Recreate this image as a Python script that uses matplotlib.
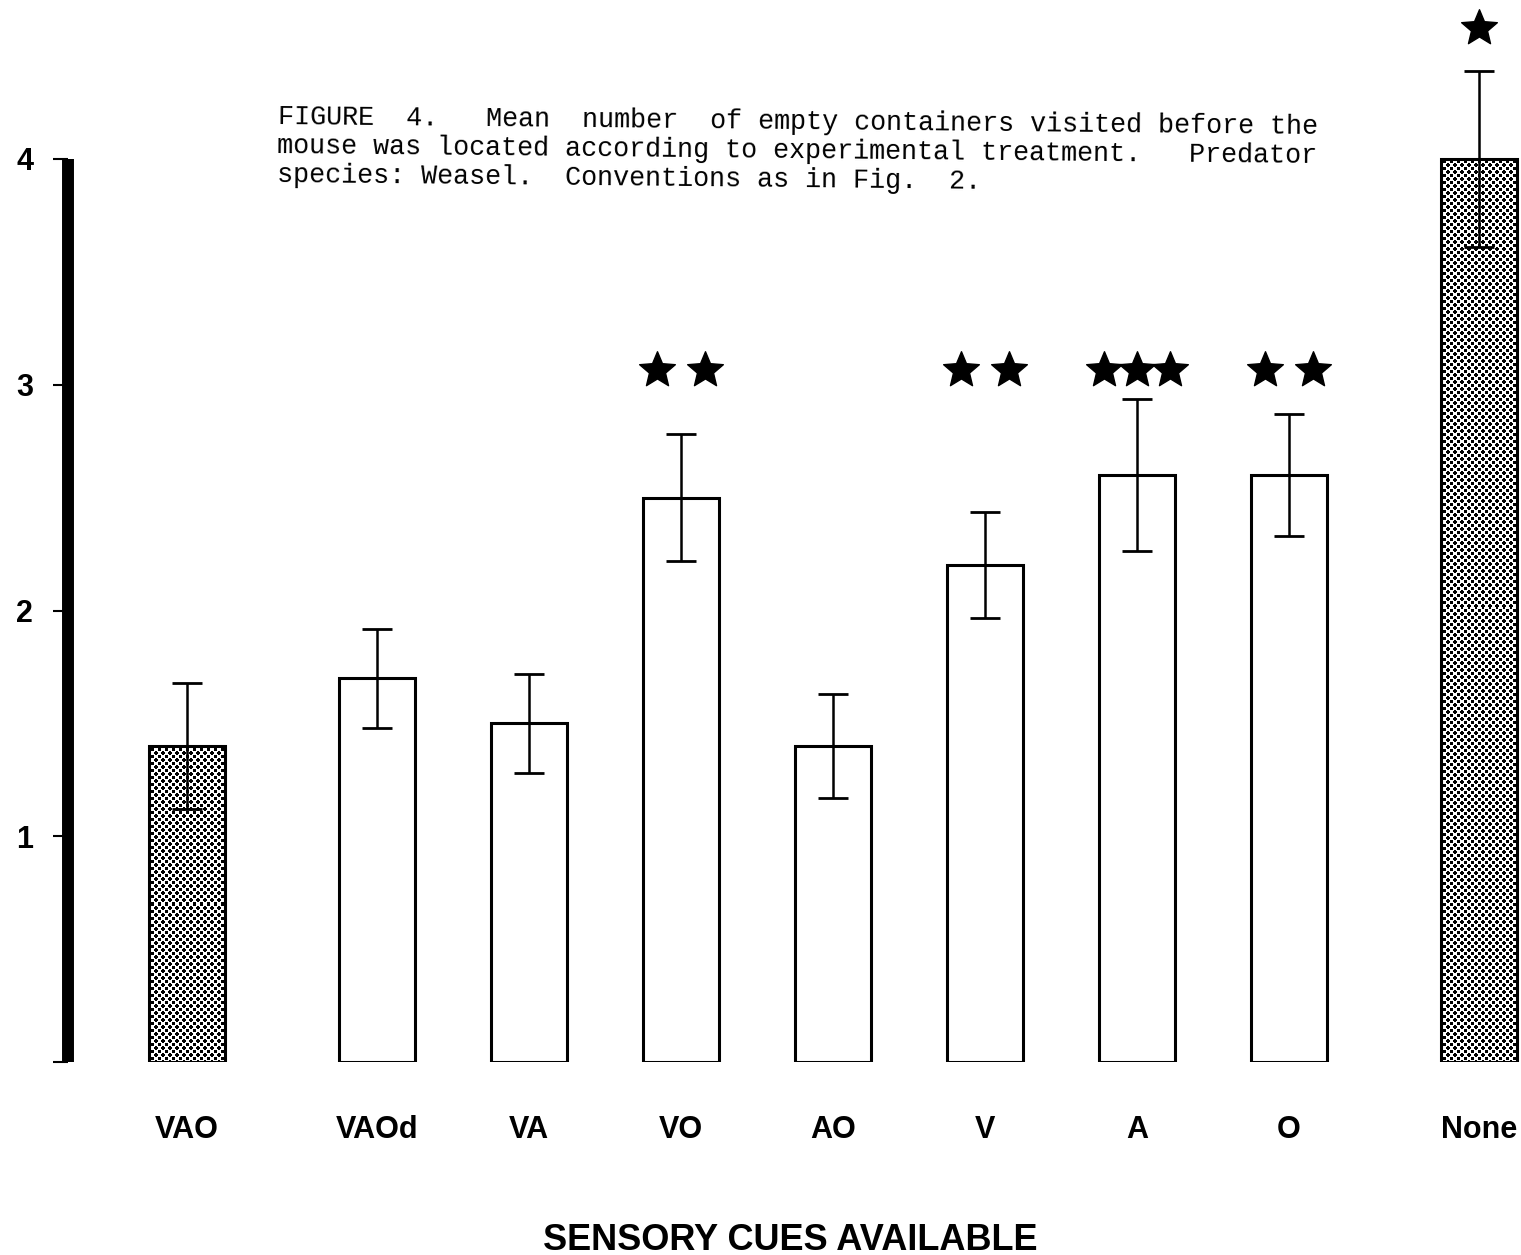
import matplotlib
matplotlib.use("Agg")
import matplotlib.pyplot as plt
import numpy as np
from matplotlib.path import Path

plt.rcParams["font.family"] = ["Liberation Sans", "DejaVu Sans"]

# Treatment groups and mean number of empty containers visited
categories = ["VAO", "VAOd", "VA", "VO", "AO", "V", "A", "O", "None"]
means = [1.4, 1.7, 1.5, 2.5, 1.4, 2.2, 2.6, 2.6, 4.0]
errors = [0.28, 0.22, 0.22, 0.28, 0.23, 0.235, 0.335, 0.27, 0.39]
stippled = [True, False, False, False, False, False, False, False, True]
stars = [0, 0, 0, 2, 0, 2, 3, 2, 1]
star_level = [None, None, None, 3.065, None, 3.065, 3.065, 3.065, 4.58]
yticks = [1, 2, 3, 4]

# control groups sit a little apart from the others
xpos = [0, 1.25, 2.25, 3.25, 4.25, 5.25, 6.25, 7.25, 8.5]

caption = [
    "FIGURE  4.   Mean  number  of empty containers visited before the",
    "mouse was located according to experimental treatment.   Predator",
    "species: Weasel.  Conventions as in Fig.  2.",
]

W, H = 1521, 1255
BAR_W = 0.5
fig = plt.figure(figsize=(W / 100, H / 100), dpi=100)
ax_left, ax_bottom = 68 / W, (H - 1062) / H
ax = fig.add_axes([ax_left, ax_bottom, 1 - ax_left, 1 - ax_bottom])
ax.set_xlim((68 - 187) / 152, (W - 187) / 152)
ax.set_ylim(0, 1062 / 225.75)


def stipple(patch, x0, x1, y0, y1, period=7.0, radius=1.8):
    """Fill a bar with a dot screen, clipped to the bar outline."""
    p0 = ax.transData.transform((x0, y0))
    p1 = ax.transData.transform((x1, y1))
    w = max(int(round(p1[0] - p0[0])), 1)
    h = max(int(round(p1[1] - p0[1])), 1)
    yy, xx = np.mgrid[0:h, 0:w] + 0.5
    u, v = xx % period, yy % period
    d1 = np.hypot(np.minimum(u, period - u), np.minimum(v, period - v))
    d2 = np.hypot(np.abs(u - period / 2), np.abs(v - period / 2))
    img = np.where(np.minimum(d1, d2) < radius, 0.0, 1.0)
    im = ax.imshow(img, extent=(x0, x1, y0, y1), cmap="gray", vmin=0, vmax=1,
                   interpolation="nearest", aspect="auto", zorder=1.9,
                   origin="lower")
    im.set_clip_path(patch)


for x, m, e, s in zip(xpos, means, errors, stippled):
    bars = ax.bar(x, m, width=BAR_W, facecolor="none" if s else "white",
                  edgecolor="black", linewidth=2.2, zorder=2)
    if s:
        stipple(bars[0], x - BAR_W / 2, x + BAR_W / 2, 0, m)
    ax.errorbar(x, m, yerr=e, fmt="none", ecolor="black", elinewidth=1.8,
                capsize=10.5, capthick=2.0, zorder=3)

star = Path.unit_regular_star(5, innerCircle=0.45)
for x, n, lvl in zip(xpos, stars, star_level):
    if n == 0:
        continue
    step = 0.31 if n == 2 else 0.22
    offs = [(i - (n - 1) / 2) * step for i in range(n)]
    ax.plot([x + o for o in offs], [lvl] * n, linestyle="none", marker=star,
            markersize=27, color="black", zorder=4, clip_on=False)

ax.set_xlim((68 - 187) / 152, (W - 187) / 152)
ax.set_ylim(0, 1062 / 225.75)

for side in ["top", "right", "bottom"]:
    ax.spines[side].set_visible(False)
ax.spines["left"].set_linewidth(8.6)
ax.spines["left"].set_capstyle("butt")
ax.spines["left"].set_bounds(0, 4)

ax.set_yticks([0] + yticks)
ax.set_yticklabels([""] + [str(t) for t in yticks])
ax.tick_params(axis="y", direction="out", length=11, width=1.5, pad=14,
               labelsize=22)
for lab in ax.get_yticklabels():
    lab.set_fontweight("bold")

ax.set_xticks(xpos)
ax.set_xticklabels(categories, fontsize=22, fontweight="bold")
ax.tick_params(axis="x", length=0, pad=38)

ax.set_xlabel("SENSORY CUES AVAILABLE", fontsize=26, fontweight="bold")
ax.xaxis.set_label_coords((790 - 68) / (W - 68), -(1250 - 1062) / 1062)
ax.xaxis.label.set_va("baseline")

# caption block, slightly skewed as on the printed page
fig.text(278 / W, (H - 104) / H, "\n".join(caption),
         family=["Liberation Mono", "DejaVu Sans Mono"], fontsize=19.3,
         ha="left", va="top", linespacing=1.15, multialignment="left",
         rotation=-0.55, rotation_mode="anchor")

fig.savefig("out.png", dpi=100)
